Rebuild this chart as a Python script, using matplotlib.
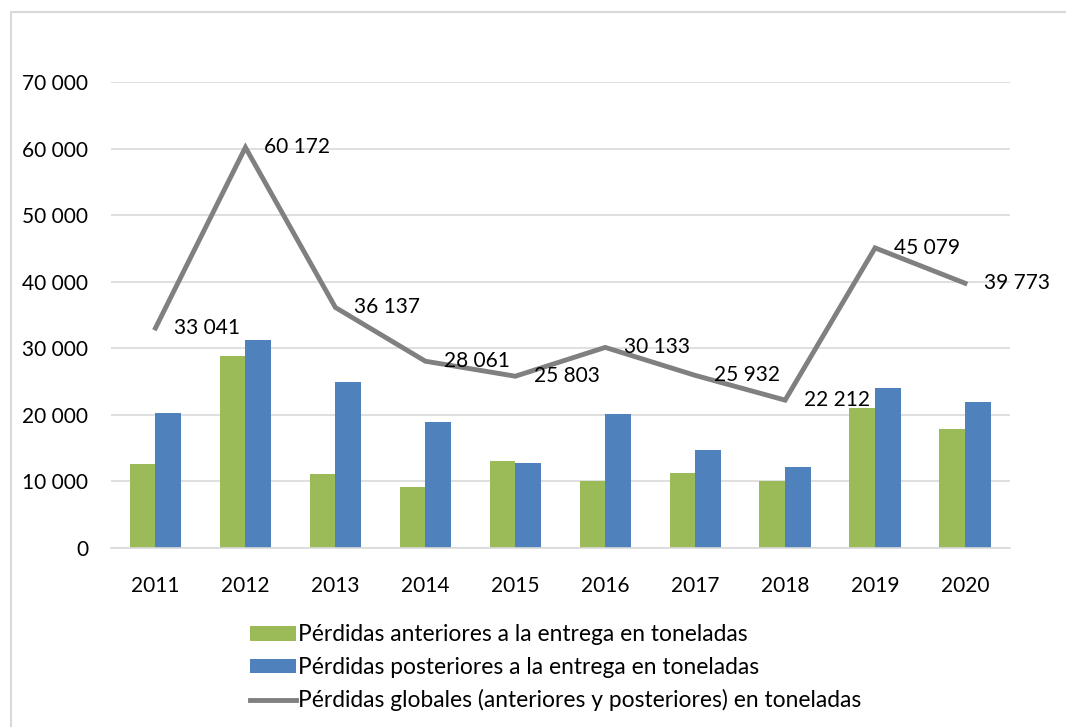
import numpy as np
import matplotlib.pyplot as plt
from matplotlib.patches import Rectangle
from matplotlib.ticker import FuncFormatter

# data (tonnes)
years = ['2011', '2012', '2013', '2014', '2015', '2016', '2017', '2018', '2019', '2020']
antes = [12600, 28900, 11100, 9150, 13100, 10000, 11200, 10000, 21000, 17900]
despues = [20300, 31270, 25000, 18900, 12700, 20100, 14700, 12200, 24100, 21900]
globales = [33041, 60172, 36137, 28061, 25803, 30133, 25932, 22212, 45079, 39773]

lbl_antes = 'Pérdidas anteriores a la entrega en toneladas'
lbl_despues = 'Pérdidas posteriores a la entrega en toneladas'
lbl_glob = 'Pérdidas globales (anteriores y posteriores) en toneladas'

plt.rcParams['font.family'] = ['Lato', 'DejaVu Sans']
fs = 15

W, H = 1066, 727
fig = plt.figure(figsize=(W / 100, H / 100), dpi=100)

# light frame of the chart area (only top and left edges show)
fig.patches.append(Rectangle((11 / W, -0.1), 1.2, 1 - 12 / H + 0.1, transform=fig.transFigure,
                             fill=False, edgecolor='#D9D9D9', lw=1.5))

ax = fig.add_axes([110.5 / W, (H - 548) / H, (1010 - 110.5) / W, (548 - 82) / H])
x = np.arange(len(years))
bw = 0.285
b1 = ax.bar(x - bw / 2, antes, bw, color='#9BBB59', label=lbl_antes, zorder=2)
b2 = ax.bar(x + bw / 2, despues, bw, color='#4F81BD', label=lbl_despues, zorder=2)
ln, = ax.plot(x, globales, color='#808080', lw=3.5, label=lbl_glob, zorder=3, solid_joinstyle='miter')

for xi, v in zip(x, globales):
    ax.annotate(f'{v:,}'.replace(',', ' '), (xi, v), xytext=(13.5, 0), textcoords='offset points',
                ha='left', va='center', fontsize=fs, color='black', zorder=4)

ax.set_xlim(-0.5, len(years) - 0.5)
ax.set_ylim(0, 70000)
ax.set_yticks(range(0, 70001, 10000))
ax.yaxis.set_major_formatter(FuncFormatter(lambda v, p: f'{int(v):,}'.replace(',', ' ')))
ax.set_xticks(x)
ax.set_xticklabels(years)
ax.tick_params(axis='both', length=0, labelsize=fs)
ax.tick_params(axis='y', pad=16)
ax.tick_params(axis='x', pad=20)
ax.grid(axis='y', color='#D9D9D9', lw=1.2, zorder=0)
for s in ['top', 'right', 'left']:
    ax.spines[s].set_visible(False)
ax.spines['bottom'].set_color('#D9D9D9')
ax.spines['bottom'].set_linewidth(1.2)

fig.legend([b1, b2, ln], [lbl_antes, lbl_despues, lbl_glob],
           loc='upper left', bbox_to_anchor=(239 / W, 1 - 613 / H), frameon=False,
           fontsize=16.4, handlelength=2.0, handleheight=0.6, handletextpad=0.1,
           labelspacing=0.5, borderpad=0)

fig.savefig('out.png', dpi=100)
